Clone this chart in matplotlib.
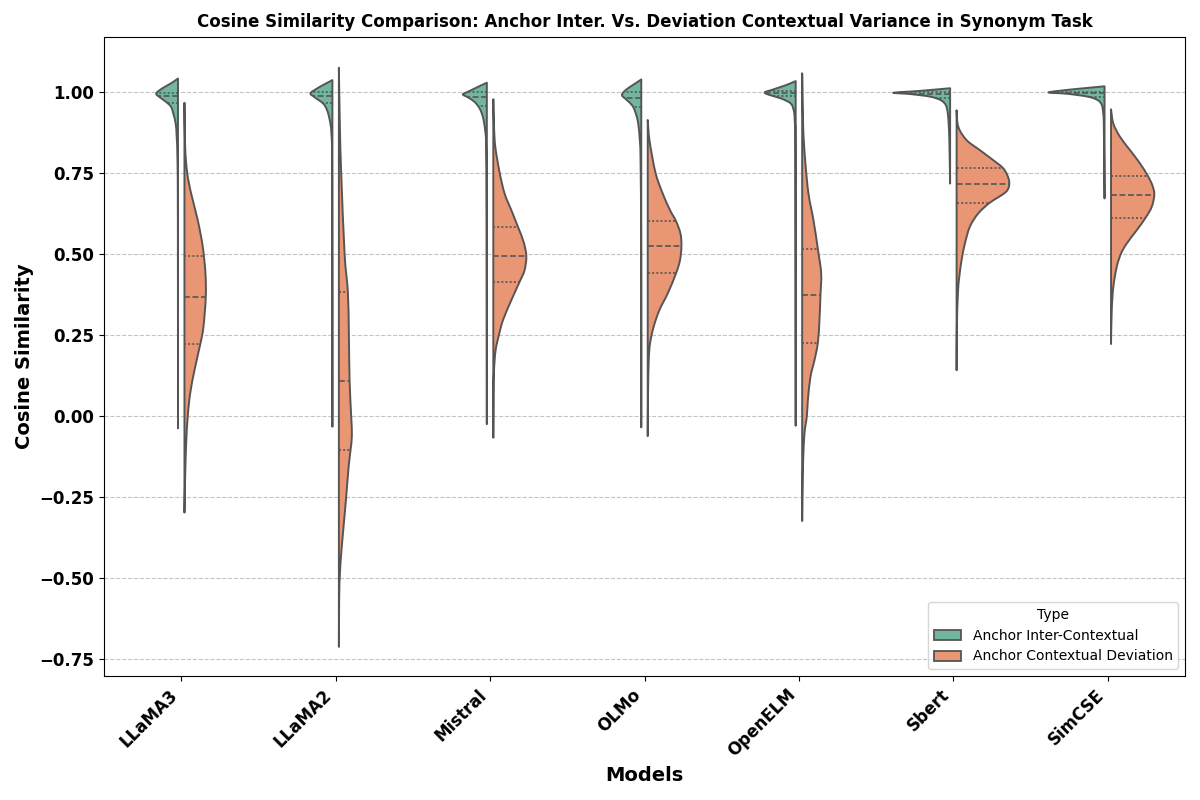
import colorsys
import numpy as np
import matplotlib
matplotlib.use("Agg")
import matplotlib.pyplot as plt
from matplotlib.patches import Patch, PathPatch
from matplotlib.path import Path

# ---------------- data ----------------
models = ["LLaMA3", "LLaMA2", "Mistral", "OLMo", "OpenELM", "Sbert", "SimCSE"]
types = ["Anchor Inter-Contextual", "Anchor Contextual Deviation"]

# density profile of each half-violin: cosine value knots and relative half-widths
inter_y = [
    [1.041, 1.026, 1.010, 0.995, 0.985, 0.969, 0.954, 0.933, 0.902, 0.861, 0.79, 0.6, -0.038],
    [1.036, 1.021, 1.007, 0.995, 0.983, 0.964, 0.943, 0.913, 0.871, 0.75, -0.033],
    [1.028, 1.015, 1.0, 0.992, 0.983, 0.969, 0.949, 0.923, 0.882, 0.83, 0.6, -0.025],
    [1.038, 1.021, 1.005, 0.99, 0.976, 0.959, 0.938, 0.907, 0.861, 0.789, 0.5, -0.035],
    [1.033, 1.021, 1.007, 0.998, 0.99, 0.979, 0.964, 0.943, 0.913, 0.8, -0.030],
    [1.011, 1.006, 1.001, 0.997, 0.993, 0.985, 0.974, 0.959, 0.933, 0.892, 0.84, 0.717],
    [1.017, 1.012, 1.006, 0.998, 0.994, 0.985, 0.974, 0.959, 0.933, 0.892, 0.671],
]
inter_w = [
    [0, 7, 16, 21.7, 19, 12, 7, 4.7, 2.3, 1.3, 0.5, 0.1, 0],
    [0, 9.3, 17, 22, 17.7, 9.3, 5.3, 2.7, 1, 0.3, 0],
    [0, 9, 19, 24, 19, 12.3, 7.3, 4, 1.7, 0.7, 0.2, 0],
    [0, 8.3, 15.7, 19.3, 15, 9.3, 6, 3.3, 1.7, 0.7, 0.1, 0],
    [0, 9.3, 22.7, 31, 26, 14.3, 5, 2, 1, 0.3, 0],
    [0, 18, 38, 57, 40, 20, 9.3, 4.3, 2.3, 1.3, 0.7, 0],
    [0, 16.7, 36.7, 56, 38, 16.7, 6.7, 2.7, 1.3, 0.7, 0],
]
dev_y = [
    [0.966, 0.83, 0.751, 0.686, 0.604, 0.522, 0.44, 0.366, 0.275, 0.224, 0.141, 0.069, 0.0, -0.085, -0.188, -0.298],
    [1.074, 0.892, 0.751, 0.501, 0.381, 0.251, 0.109, 0.0, -0.06, -0.104, -0.158, -0.25, -0.354, -0.425, -0.487, -0.559, -0.712],
    [0.977, 0.892, 0.83, 0.751, 0.686, 0.635, 0.583, 0.537, 0.494, 0.45, 0.414, 0.357, 0.296, 0.251, 0.203, 0.141, 0.07, -0.067],
    [0.913, 0.851, 0.751, 0.686, 0.635, 0.601, 0.563, 0.525, 0.481, 0.44, 0.378, 0.327, 0.276, 0.224, 0.172, 0.07, -0.062],
    [1.057, 0.892, 0.789, 0.686, 0.604, 0.515, 0.44, 0.373, 0.296, 0.226, 0.172, 0.121, 0.049, 0.0, -0.054, -0.136, -0.239, -0.324],
    [0.943, 0.892, 0.851, 0.82, 0.789, 0.766, 0.743, 0.717, 0.691, 0.658, 0.625, 0.584, 0.532, 0.481, 0.429, 0.378, 0.275, 0.141],
    [0.946, 0.902, 0.861, 0.82, 0.779, 0.741, 0.712, 0.683, 0.645, 0.612, 0.573, 0.532, 0.501, 0.46, 0.398, 0.326, 0.222],
]
dev_w = [
    [0, 0.7, 2.7, 6.7, 13.3, 18.3, 21, 21.3, 19, 16, 10, 5.7, 3.3, 1.7, 0.7, 0],
    [0, 1, 2.3, 5.7, 9, 10, 10.7, 12.3, 13, 11.7, 9.7, 7.3, 4.3, 2.3, 1, 0.3, 0],
    [0, 0.7, 2, 6.3, 11.3, 18, 24.7, 30.3, 33, 31.3, 26.3, 18, 9.7, 5.7, 2.3, 0.7, 0.2, 0],
    [0, 1.7, 7.7, 15, 22.3, 28.3, 32.7, 33.7, 32.3, 28.3, 20, 11.7, 6, 2.3, 1, 0.3, 0],
    [0, 1, 3, 6.3, 11.3, 15.7, 19, 18.3, 17.3, 15.7, 12.3, 8.3, 5.7, 4.7, 2.3, 1, 0.3, 0],
    [0, 1.7, 10, 23.3, 36.7, 46, 50.7, 52.7, 49.3, 33.3, 21.7, 13.3, 8.3, 5, 2.7, 1.3, 0.3, 0],
    [0, 2.3, 9, 19, 29, 36.7, 41.3, 43.3, 40.7, 34.7, 25.7, 15.7, 10, 5.7, 2.3, 0.7, 0],
]

# quartiles (q1, median, q3)
inter_quart = [(0.966, 0.988, 0.997), (0.964, 0.988, 0.998), (0.957, 0.985, 0.998),
               (0.952, 0.981, 0.998), (0.987, 0.995, 1.001), (0.980, 0.993, 0.999),
               (0.985, 0.995, 0.999)]
dev_quart = [(0.222, 0.366, 0.494), (-0.104, 0.109, 0.381), (0.414, 0.494, 0.583),
             (0.44, 0.525, 0.601), (0.226, 0.373, 0.515), (0.658, 0.717, 0.766),
             (0.612, 0.683, 0.741)]

yticks = [-0.75, -0.50, -0.25, 0.00, 0.25, 0.50, 0.75, 1.00]

# ---------------- style ----------------
def desaturate(hexcol, prop=0.75):
    r, g, b = matplotlib.colors.to_rgb(hexcol)
    h, l, s = colorsys.rgb_to_hls(r, g, b)
    return colorsys.hls_to_rgb(h, l, s * prop)

colors = [desaturate("#66c2a5"), desaturate("#fc8d62")]
edge = "#555555"
WSCALE = 1.0 / 154.5   # half-width units -> axis units
OFF = 0.021            # gap between halves


def half_path(base, sign, ys, ws):
    """Closed half-violin outline; outer edge drawn as a smooth Catmull-Rom curve."""
    P = np.column_stack([base + sign * ws, ys])
    verts = [(base, ys[0]), tuple(P[0])]
    codes = [Path.MOVETO, Path.LINETO]
    n = len(P)
    for k in range(n - 1):
        p0 = P[k - 1] if k > 0 else P[k]
        p1 = P[k]
        p2 = P[k + 1]
        p3 = P[k + 2] if k + 2 < n else P[k + 1]
        c1 = p1 + (p2 - p0) / 6.0
        c2 = p2 - (p3 - p1) / 6.0
        c1[0] = base + sign * max(sign * (c1[0] - base), 0)
        c2[0] = base + sign * max(sign * (c2[0] - base), 0)
        verts += [tuple(c1), tuple(c2), tuple(p2)]
        codes += [Path.CURVE4] * 3
    verts += [(base, ys[-1]), (base, ys[0])]
    codes += [Path.LINETO, Path.CLOSEPOLY]
    return Path(verts, codes)


fig = plt.figure(figsize=(12, 8), dpi=100)
ax = fig.add_axes([104 / 1200, 1 - 676 / 800, (1185 - 104) / 1200, (676 - 37) / 800])

ax.set_axisbelow(True)
ax.yaxis.grid(True, linestyle="--", color="#b0b0b0", alpha=0.75, linewidth=0.8)

for i, m in enumerate(models):
    for side, (ys, ws, qs, col) in enumerate([
        (inter_y[i], inter_w[i], inter_quart[i], colors[0]),
        (dev_y[i], dev_w[i], dev_quart[i], colors[1]),
    ]):
        ys = np.asarray(ys, float)
        ws = np.asarray(ws, float) * WSCALE
        sign = -1 if side == 0 else 1
        base = i + sign * OFF
        patch = PathPatch(half_path(base, sign, ys, ws), facecolor=col, edgecolor=edge,
                          linewidth=1.4, joinstyle="round", zorder=2)
        ax.add_patch(patch)
        for k, q in enumerate(qs):
            wq = np.interp(q, ys[::-1], ws[::-1])
            ln, = ax.plot([base, base + sign * wq], [q, q], color=edge, linewidth=1.2,
                          zorder=3)
            if k == 1:
                ln.set_dashes([3.5, 1.6])
            else:
                ln.set_dashes([1.2, 1.3])

ax.set_xlim(-0.5, len(models) - 0.5)
ax.set_ylim(-0.802, 1.169)
ax.set_xticks(range(len(models)))
ax.set_xticklabels(models, rotation=45, ha="right", fontsize=12, fontweight="bold")
ax.set_yticks(yticks)
ax.set_yticklabels([f"{t:.2f}".replace("-", "\u2212") for t in yticks],
                   fontsize=12, fontweight="bold")

ax.set_xlabel("Models", fontsize=14, fontweight="bold")
ax.set_ylabel("Cosine Similarity", fontsize=14, fontweight="bold")
ax.set_title("Cosine Similarity Comparison: Anchor Inter. Vs. Deviation Contextual Variance in Synonym Task",
             fontsize=12, fontweight="bold", pad=7)

handles = [Patch(facecolor=colors[0], edgecolor=edge, linewidth=1.3, label=types[0]),
           Patch(facecolor=colors[1], edgecolor=edge, linewidth=1.3, label=types[1])]
ax.legend(handles=handles, title="Type", loc="lower right", fontsize=10,
          title_fontsize=10, frameon=True)

fig.savefig("out.png", dpi=100)
